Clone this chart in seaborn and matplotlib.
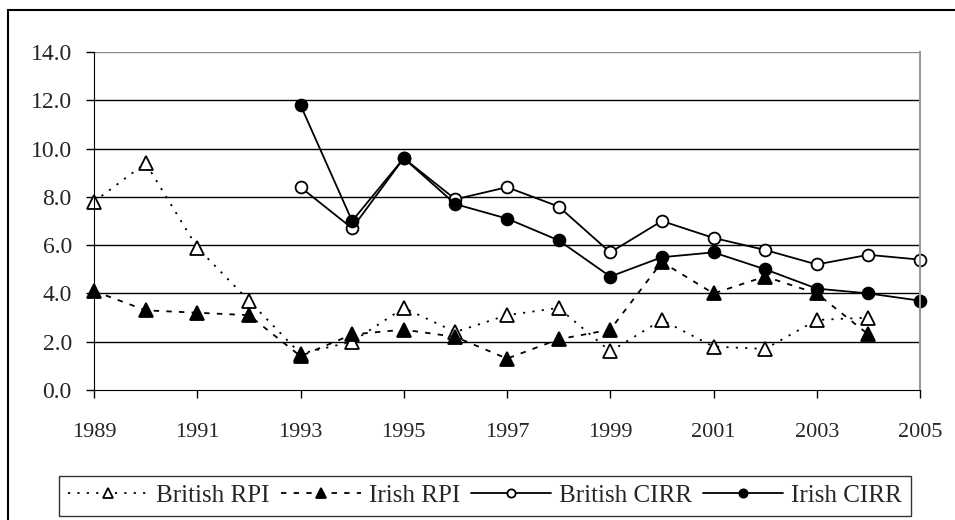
import numpy as np
import pandas as pd
import seaborn as sns
from matplotlib import pyplot as plt
from matplotlib.patches import Rectangle

sns.set_style("white")
plt.rcParams['font.family'] = ['Liberation Serif', 'DejaVu Serif']

years = list(range(1989, 2006))
british_rpi = [7.8, 9.4, 5.9, 3.7, 1.5, 2.0, 3.4, 2.4, 3.1, 3.4, 1.6, 2.9, 1.8, 1.7, 2.9, 3.0, np.nan]
irish_rpi = [4.1, 3.3, 3.2, 3.1, 1.4, 2.3, 2.5, 2.2, 1.3, 2.1, 2.5, 5.3, 4.0, 4.7, 4.0, 2.3, np.nan]
british_cirr = [np.nan] * 4 + [8.4, 6.7, 9.6, 7.9, 8.4, 7.6, 5.7, 7.0, 6.3, 5.8, 5.2, 5.6, 5.4]
irish_cirr = [np.nan] * 4 + [11.8, 7.0, 9.6, 7.7, 7.1, 6.2, 4.7, 5.5, 5.7, 5.0, 4.2, 4.0, 3.7]

df = pd.DataFrame({"year": years, "British RPI": british_rpi, "Irish RPI": irish_rpi,
                   "British CIRR": british_cirr, "Irish CIRR": irish_cirr})

fig = plt.figure(figsize=(9.55, 5.2), dpi=100)
ax = fig.add_axes([94 / 955, 1 - 390 / 520, (920 - 94) / 955, (390 - 52) / 520])

styles = {
    "British RPI": dict(linestyle=(0, (1.2, 4)), marker="^", mfc="white", ms=10, lw=1.3),
    "Irish RPI": dict(linestyle=(0, (3, 4)), marker="^", mfc="black", ms=10, lw=1.3),
    "British CIRR": dict(linestyle="-", marker="o", mfc="white", ms=8.5, lw=1.3),
    "Irish CIRR": dict(linestyle="-", marker="o", mfc="black", ms=8.5, lw=1.3),
}
for name, st in styles.items():
    sns.lineplot(data=df, x="year", y=name, ax=ax, color="black", label=name,
                 mec="black", mew=1.3, clip_on=False, **st)

ax.set_xlim(1989, 2005)
ax.set_ylim(0, 14)
ax.set_xticks(range(1989, 2006, 2))
ax.set_yticks(np.arange(0, 14.1, 2))
ax.set_yticklabels([f"{v:.1f}" for v in np.arange(0, 14.1, 2)])
ax.set_xlabel("")
ax.set_ylabel("")
for y in np.arange(2, 14.1, 2):
    ax.axhline(y, color="black" if y < 14 else "#888888", lw=1, zorder=0)
ax.spines["top"].set_visible(False)
ax.spines["right"].set_color("#999999")
ax.spines["right"].set_linewidth(1.5)
ax.spines["left"].set_color("black")
ax.spines["bottom"].set_color("black")
ax.tick_params(axis="both", direction="out", length=6, width=1, color="black",
               bottom=True, left=True)
ax.tick_params(axis="x", pad=18, labelsize=16)
ax.tick_params(axis="y", pad=10, labelsize=17)
ax.get_legend().remove()

handles, labels = ax.get_legend_handles_labels()
leg = fig.legend(handles, labels, loc="center", ncol=4,
                 bbox_to_anchor=(485 / 955, 1 - 495.5 / 520),
                 fontsize=18, frameon=True, fancybox=False, handlelength=3.2,
                 handletextpad=0.32, columnspacing=0.45, borderpad=0.35, borderaxespad=0,
                 markerscale=0.7)
leg.get_frame().set_edgecolor("black")
leg.get_frame().set_linewidth(1)

fig.add_artist(Rectangle((8 / 955, -0.1), 1.1, 1 - 10 / 520 + 0.1, transform=fig.transFigure,
                         fill=False, edgecolor="black", lw=1.5, clip_on=False))

fig.savefig("out.png", dpi=100)
